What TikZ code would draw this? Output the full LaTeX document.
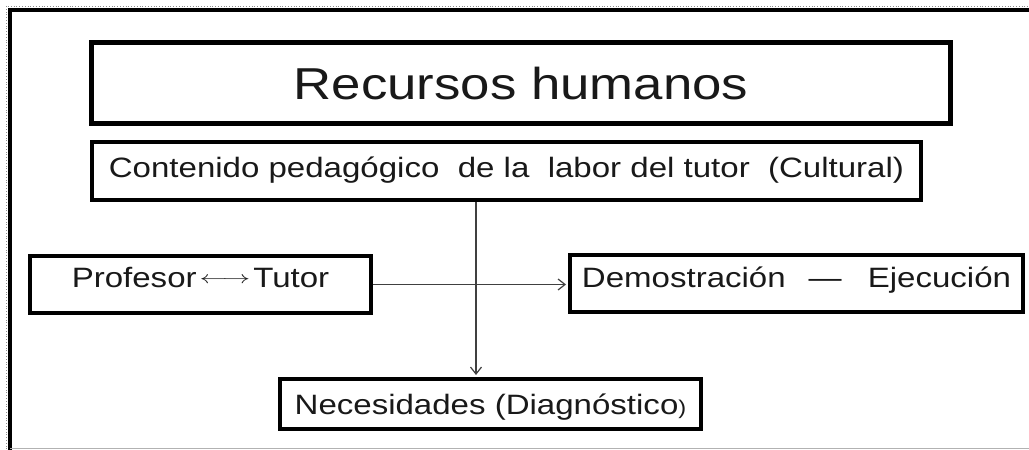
\documentclass[tikz,border=0pt]{standalone}
\usepackage{fontspec}
\setmainfont[FakeStretch=1.18]{Liberation Sans}
\usepackage{graphicx}
\usetikzlibrary{arrows.meta}
\begin{document}
\begin{tikzpicture}[x=1pt,y=-1pt,
 box/.style={draw=black, line width=4pt, inner sep=0pt, text=black!90, fill=white},
 lbl/.style={font=\fontsize{28}{32}\selectfont, text height=20pt},
 conn/.style={draw=black!75, line width=1.2pt},
 arr/.style={conn, shorten >=2pt, -{Straight Barb[length=7pt,width=11pt,line width=1.2pt]}},
]
\useasboundingbox (0,0) rectangle (1029,450);
\fill[white] (0,0) rectangle (1029,450);
% outer frame
\draw[black!45, line width=0.8pt, dotted] (6,452) -- (6,6) -- (1035,6);
\draw[black, line width=4pt] (10,452) -- (10,10) -- (1035,10);
\draw[black!30, line width=1pt] (10,448) -- (1035,448);
% boxes
\node[box, line width=5pt, minimum width=859pt, minimum height=81pt,
      font=\fontsize{44.7}{50}\selectfont, text height=32pt, text depth=0pt]
      (rh) at (521,83) {Recursos humanos};
\node[box, lbl, minimum width=829pt, minimum height=58pt, text depth=8pt]
      (ct) at (506.5,171) {Contenido pedagógico\ \ de la\ \ labor del tutor\ \ (Cultural)};
\node[box, lbl, minimum width=341pt, minimum height=57pt, text depth=15pt]
      (pt) at (200.5,284.5) {Profesor\hspace{3pt}\raisebox{3.5pt}{\fontsize{18}{18}\selectfont\scalebox{1.6}[1]{$\longleftrightarrow$}}\hspace{3pt}Tutor};
\node[box, lbl, minimum width=453pt, minimum height=57pt, text depth=12pt]
      (dm) at (796.5,283.5) {Demostración\hspace{23pt}—\hspace{26pt}Ejecución};
\node[box, lbl, minimum width=421pt, minimum height=50pt, text depth=0pt]
      (nd) at (490.5,404) {Necesidades (Diagnóstico{\fontsize{20}{20}\selectfont)}};
% connectors
\coordinate (vx) at (476,0);
\draw[conn] (pt.east) -- (pt.east -| vx);
\draw[arr] (vx |- ct.south) -- (vx |- nd.north);
\draw[arr] (pt.east -| vx) -- (pt.east -| dm.west);
\end{tikzpicture}
\end{document}
